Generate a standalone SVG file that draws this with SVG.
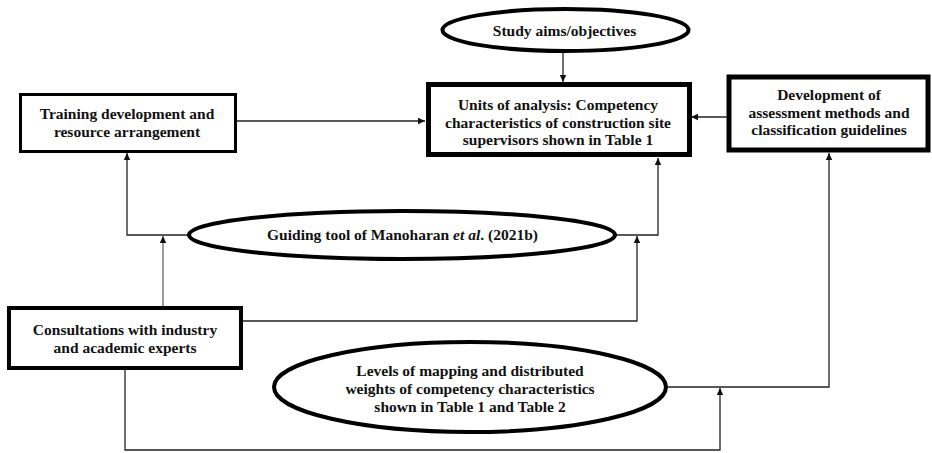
<svg xmlns="http://www.w3.org/2000/svg" width="932" height="453" viewBox="0 0 932 453">
<defs>
<marker id="arr" markerWidth="8" markerHeight="8" refX="7" refY="4" orient="auto" markerUnits="userSpaceOnUse">
<path d="M0,0.8 L7,4 L0,7.2 Z" fill="#111"/>
</marker>
<style>
.t{font-family:"Liberation Serif","Times New Roman",serif;font-weight:bold;font-size:15.5px;fill:#111;text-anchor:middle}
.box{fill:#fff;stroke:#000}
.ell{fill:#fff;stroke:#000;stroke-width:4}
.c{fill:none;stroke:#222;stroke-width:1.3}
</style>
</defs>
<rect width="932" height="453" fill="#fff"/>
<g id="connectors">
<path class="c" d="M236,121 H425" marker-end="url(#arr)"/>
<path class="c" d="M563,53 V82" marker-end="url(#arr)"/>
<path class="c" d="M727,117 H691" marker-end="url(#arr)"/>
<path class="c" d="M188,235 H127 V153" marker-end="url(#arr)"/>
<path class="c" d="M616,235 H658 V158" marker-end="url(#arr)"/>
<path class="c" d="M163,306 V236" marker-end="url(#arr)" style="stroke:#666"/>
<path class="c" d="M242,321 H637 V236" marker-end="url(#arr)"/>
<path class="c" d="M125,369 V450 H720 V388" marker-end="url(#arr)"/>
<path class="c" d="M668,387 H829 V153" marker-end="url(#arr)"/>
</g>
<g id="study">
<ellipse class="ell" cx="565.5" cy="30" rx="123" ry="21"/>
<text class="t" x="564.5" y="35.5">Study aims/objectives</text>
</g>
<g id="training">
<rect class="box" x="20.5" y="94.5" width="215" height="57" stroke-width="3"/>
<text class="t" x="127" y="119">Training development and</text>
<text class="t" x="127" y="137">resource arrangement</text>
</g>
<g id="units">
<rect class="box" x="428.5" y="84.5" width="261" height="70" stroke-width="5"/>
<text class="t" x="558" y="110">Units of analysis: Competency</text>
<text class="t" x="558" y="127.5">characteristics of construction site</text>
<text class="t" x="558" y="145">supervisors shown in Table 1</text>
</g>
<g id="development">
<rect class="box" x="729" y="77" width="199" height="73" stroke-width="5"/>
<text class="t" x="829" y="100">Development of</text>
<text class="t" x="829" y="117.5">assessment methods and</text>
<text class="t" x="829" y="135">classification guidelines</text>
</g>
<g id="guiding">
<ellipse class="ell" cx="402" cy="235" rx="213" ry="24"/>
<text class="t" x="402.5" y="240">Guiding tool of Manoharan <tspan font-style="italic">et al</tspan>. (2021b)</text>
</g>
<g id="consultations">
<rect class="box" x="9" y="308" width="232" height="60" stroke-width="4"/>
<text class="t" x="125" y="335">Consultations with industry</text>
<text class="t" x="125" y="353">and academic experts</text>
</g>
<g id="levels">
<ellipse class="ell" cx="470" cy="387" rx="196" ry="45"/>
<text class="t" x="470" y="376">Levels of mapping and distributed</text>
<text class="t" x="470" y="394">weights of competency characteristics</text>
<text class="t" x="470" y="412">shown in Table 1 and Table 2</text>
</g>
</svg>
